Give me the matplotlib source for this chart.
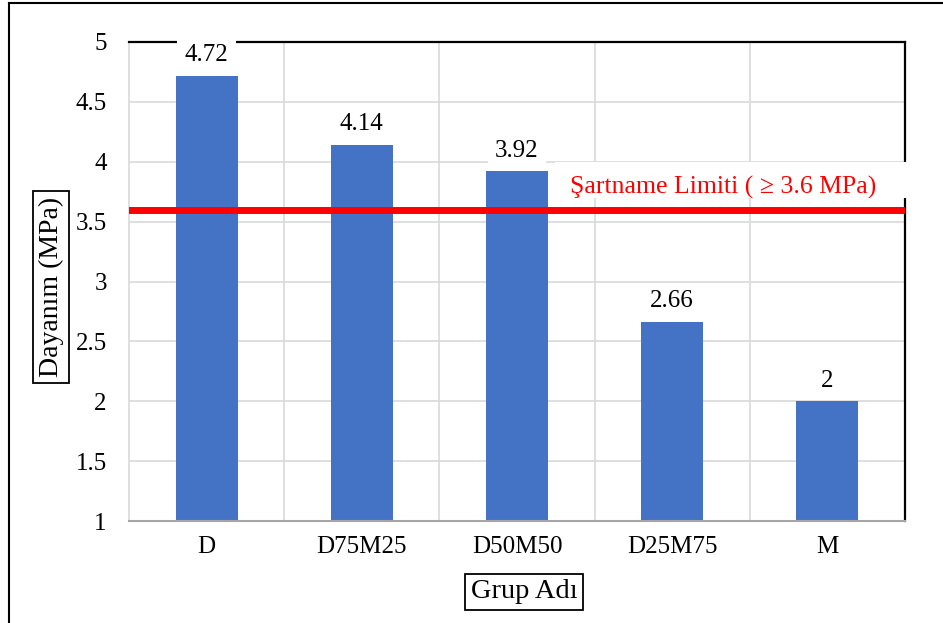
import matplotlib
matplotlib.use('Agg')
import matplotlib.pyplot as plt
from matplotlib.lines import Line2D
from matplotlib.patches import Rectangle

plt.rcParams['font.family'] = ['Liberation Serif', 'DejaVu Serif']

# group names and measured strength (MPa)
groups = ['D', 'D75M25', 'D50M50', 'D25M75', 'M']
strength = [4.72, 4.14, 3.92, 2.66, 2]
limit = 3.6
limit_label = 'Şartname Limiti ( ≥ 3.6 MPa)'
y_ticks = [1, 1.5, 2, 2.5, 3, 3.5, 4, 4.5, 5]
y_tick_labels = ['1', '1.5', '2', '2.5', '3', '3.5', '4', '4.5', '5']

W, H = 943, 623
fig = plt.figure(figsize=(W / 100, H / 100), dpi=100)
ax = fig.add_axes([129 / W, 1 - 521 / H, (905 - 129) / W, (521 - 42) / H])

x = list(range(len(groups)))
ax.bar(x, strength, width=0.4, color='#4472C4', zorder=2)

ax.set_xlim(-0.5, len(groups) - 0.5)
ax.set_ylim(1, 5)
ax.set_yticks(y_ticks)
ax.set_yticklabels(y_tick_labels)
ax.set_xticks(x)
ax.set_xticklabels(groups)
ax.set_xticks([i + 0.5 for i in x[:-1]], minor=True)
ax.tick_params(axis='both', which='both', length=0, labelsize=18)
ax.tick_params(axis='y', pad=16)
ax.tick_params(axis='x', pad=11)

# gridlines: horizontal at major y ticks, vertical between groups
ax.grid(axis='y', which='major', color='#D9D9D9', lw=1.2, zorder=0)
ax.grid(axis='x', which='minor', color='#D9D9D9', lw=1.2, zorder=0)
ax.set_axisbelow(True)

ax.spines['left'].set_color('#D9D9D9')
ax.spines['left'].set_linewidth(1.2)
ax.spines['bottom'].set_color('#A6A6A6')
ax.spines['bottom'].set_linewidth(1.5)
for s in ('top', 'right'):
    ax.spines[s].set_color('black')
    ax.spines[s].set_linewidth(1.6)

# value labels on top of each bar
for xi, v in zip(x, strength):
    ax.annotate(f'{v:g}', xy=(xi, v), xytext=(0, 7), textcoords='offset points',
                ha='center', va='bottom', fontsize=18, zorder=5,
                bbox=dict(boxstyle='square,pad=0.3', fc='white', ec='none'),
                annotation_clip=False)

# specification limit line and its label
ax.axhline(limit, color='red', lw=5, zorder=3)
ax.add_patch(Rectangle((426 / 776, (521 - 198) / 479), 0.03 + (776 - 426) / 776, 36 / 479,
                       transform=ax.transAxes, fc='white', ec='none',
                       zorder=4, clip_on=False))
ax.text(0.765, (521 - 187) / 479, limit_label, transform=ax.transAxes,
        ha='center', va='center', color='red', fontsize=18.5, zorder=5)

# axis titles in boxes
box = dict(boxstyle='square,pad=0.2', fc='white', ec='black', lw=1.3)
fig.text(51 / W, 1 - 287 / H, 'Dayanım (MPa)', rotation=90, ha='center',
         va='center', fontsize=20, bbox=box)
fig.text(524 / W, 1 - 592 / H, 'Grup Adı', ha='center', va='center',
         fontsize=20.5, bbox=box)

# outer chart frame
fig.add_artist(Line2D([9 / W, 9 / W], [0, 1 - 3 / H], color='black', lw=1.5))
fig.add_artist(Line2D([9 / W, 1], [1 - 3 / H, 1 - 3 / H], color='black', lw=1.5))

fig.savefig('out.png', dpi=100)
